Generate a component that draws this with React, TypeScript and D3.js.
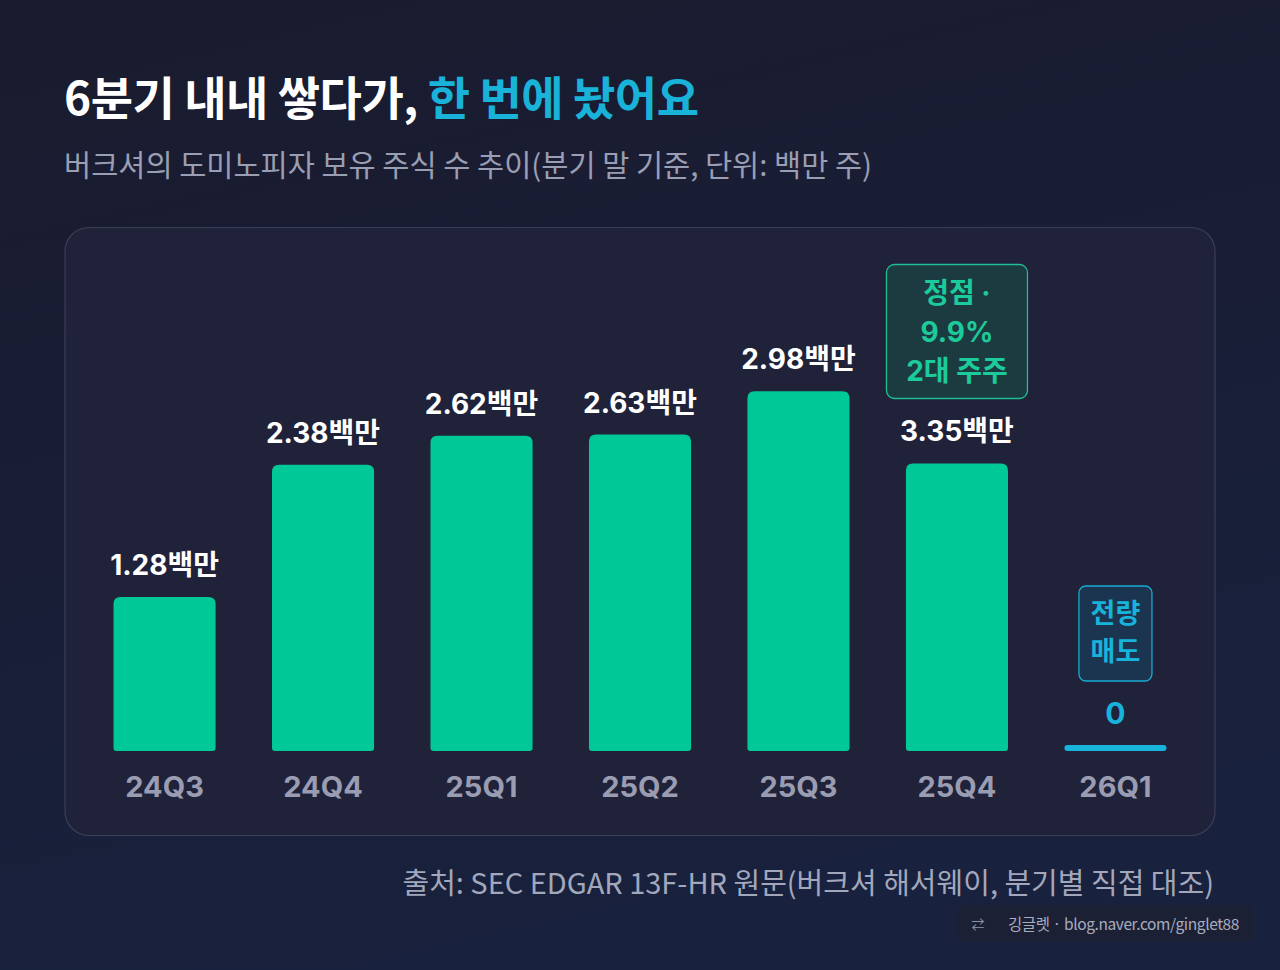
import React from "react";
import * as d3 from "d3";

const categories = ["24Q3", "24Q4", "25Q1", "25Q2", "25Q3", "25Q4", "26Q1"];
const valueLabels = ["1.28백만", "2.38백만", "2.62백만", "2.63백만", "2.98백만", "3.35백만", "0"];
// bar heights as drawn in the picture (millions of shares)
const drawnValues = [1.28, 2.38, 2.62, 2.63, 2.99, 2.39, 0];
const peakBadge = ["정점 ·", "9.9%", "2대 주주"];
const sellBadge = ["전량", "매도"];

const W = 1280;
const H = 970;
const FONT = "Inter, 'Noto Sans CJK KR', sans-serif";
const KFONT = "'Noto Sans CJK KR', Inter, sans-serif";

export default function App() {
  const x = d3.scaleBand<string>().domain(categories).range([85, 1195]).paddingInner(0.356).paddingOuter(0.18);
  const baseY = 751;
  const y = d3.scaleLinear().domain([0, 1]).range([baseY, baseY - 120.3]);
  const bw = x.bandwidth();

  const barPath = (x0: number, y0: number, w: number, h: number, rt: number, rb: number) => {
    const p = d3.path();
    p.moveTo(x0 + rt, y0);
    p.lineTo(x0 + w - rt, y0);
    p.quadraticCurveTo(x0 + w, y0, x0 + w, y0 + rt);
    p.lineTo(x0 + w, y0 + h - rb);
    p.quadraticCurveTo(x0 + w, y0 + h, x0 + w - rb, y0 + h);
    p.lineTo(x0 + rb, y0 + h);
    p.quadraticCurveTo(x0, y0 + h, x0, y0 + h - rb);
    p.lineTo(x0, y0 + rt);
    p.quadraticCurveTo(x0, y0, x0 + rt, y0);
    p.closePath();
    return p.toString();
  };

  return (
    <svg width={W} height={H} style={{ display: "block", position: "absolute", left: 0, top: 0 }}>
      <defs>
        <linearGradient id="bg" x1="0" y1="0" x2="0.3" y2="1">
          <stop offset="0%" stopColor="#1a1b2e" />
          <stop offset="100%" stopColor="#18213d" />
        </linearGradient>
      </defs>
      <rect x={0} y={0} width={W} height={H} fill="url(#bg)" />
      <text x={64} y={115} fontFamily={KFONT} fontWeight={700} fontSize={46} fill="#ffffff" letterSpacing={-0.5}>
        6분기 내내 쌓다가, <tspan fill="#19b3da">한 번에 놨어요</tspan>
      </text>
      <text x={64} y={176} fontFamily={KFONT} fontWeight={400} fontSize={29.5} fill="#9a9eb3" letterSpacing={0}>
        버크셔의 도미노피자 보유 주식 수 추이(분기 말 기준, 단위: 백만 주)
      </text>

      <rect x={65} y={227.5} width={1150} height={608} rx={24} fill="#20223a" stroke="#3b3e57" strokeWidth={1.2} />

      {categories.map((c, i) => {
        const cx = (x(c) as number) + bw / 2;
        const v = drawnValues[i];
        const top = y(v);
        const isZero = v === 0;
        return (
          <g key={c}>
            {isZero ? (
              <rect x={x(c)} y={baseY - 6} width={bw} height={6} rx={3} fill="#17b3db" />
            ) : (
              <path d={barPath(x(c) as number, top, bw, baseY - top, 7, 3)} fill="#00c896" />
            )}
            <text
              x={cx}
              y={isZero ? 724 : top - 22}
              textAnchor="middle"
              fontFamily={FONT}
              fontWeight={700}
              fontSize={isZero ? 30 : 28}
              fill={isZero ? "#17b3db" : "#ffffff"}
              letterSpacing={0}
            >
              {valueLabels[i]}
            </text>
            <text x={cx} y={797} textAnchor="middle" fontFamily={FONT} fontWeight={700} fontSize={29} fill="#9a9cb2">
              {c}
            </text>
          </g>
        );
      })}

      {(() => {
        const cx = (x("25Q4") as number) + bw / 2;
        return (
          <g>
            <rect x={cx - 70.5} y={264.5} width={141} height={134} rx={8} fill="#1c3b40" stroke="#1fbf95" strokeWidth={1.3} />
            {peakBadge.map((t, j) => (
              <text key={j} x={cx} y={303 + j * 39} textAnchor="middle" fontFamily={FONT} fontWeight={700} fontSize={28} fill="#1ccb9b">
                {t}
              </text>
            ))}
          </g>
        );
      })()}
      {(() => {
        const cx = (x("26Q1") as number) + bw / 2;
        return (
          <g>
            <rect x={cx - 36.5} y={586} width={73} height={95} rx={7} fill="#1b3550" stroke="#19a9d2" strokeWidth={1.3} />
            {sellBadge.map((t, j) => (
              <text key={j} x={cx} y={623 + j * 38} textAnchor="middle" fontFamily={KFONT} fontWeight={700} fontSize={27} fill="#17b3db">
                {t}
              </text>
            ))}
          </g>
        );
      })()}

      <text x={1214} y={894} textAnchor="end" fontFamily={KFONT} fontWeight={400} fontSize={29} fill="#a3a7bb" letterSpacing={0}>
        출처: SEC EDGAR 13F-HR 원문(버크셔 해서웨이, 분기별 직접 대조)
      </text>
      <rect x={957} y={905} width={296} height={37} rx={6} fill="#1c2035" />
      <text x={978} y={929} textAnchor="middle" fontFamily={KFONT} fontSize={13} fill="#8f93a8">⇄</text>
      <text x={1239} y={930} textAnchor="end" fontFamily={KFONT} fontWeight={400} fontSize={15.5} fill="#a8acbf" letterSpacing={-0.4}>
        깅글렛 · blog.naver.com/ginglet88
      </text>
    </svg>
  );
}
